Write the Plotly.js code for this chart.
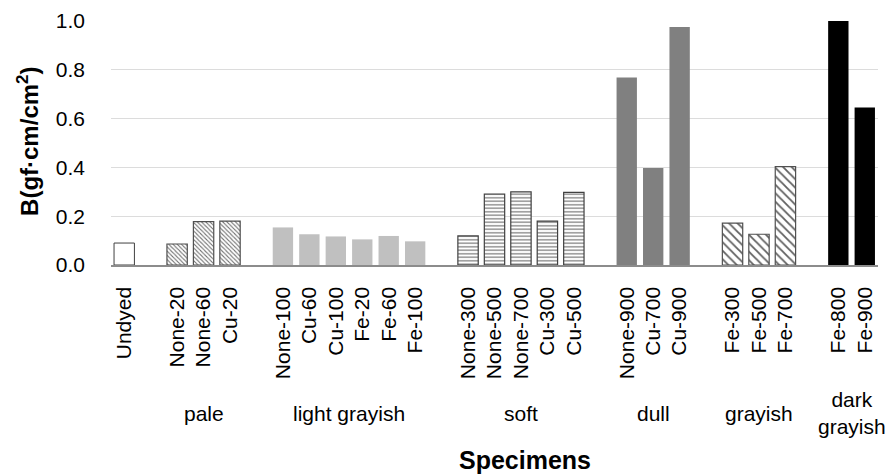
<!DOCTYPE html>
<html>
<head>
<meta charset="utf-8">
<script src="https://cdn.plot.ly/plotly-3.0.1.min.js"></script>
<style>html,body{margin:0;padding:0;background:#fff;}#chart{width:885px;height:475px;}</style>
</head>
<body>
<div id="chart"></div>
<script>
// Data
const groupNames = ["", "pale", "light grayish", "soft", "dull", "grayish", "dark<br>grayish"];
const undyed = ["Undyed"];
const undyedVals = [0.09];
const pale = ["None-20", "None-60", "Cu-20"];
const paleVals = [0.086, 0.178, 0.18];
const lightGrayish = ["None-100", "Cu-60", "Cu-100", "Fe-20", "Fe-60", "Fe-100"];
const lightGrayishVals = [0.154, 0.126, 0.117, 0.105, 0.119, 0.097];
const soft = ["None-300", "None-500", "None-700", "Cu-300", "Cu-500"];
const softVals = [0.119, 0.291, 0.300, 0.180, 0.298];
const dull = ["None-900", "Cu-700", "Cu-900"];
const dullVals = [0.768, 0.398, 0.975];
const grayish = ["Fe-300", "Fe-500", "Fe-700"];
const grayishVals = [0.172, 0.126, 0.403];
const darkGrayish = ["Fe-800", "Fe-900"];
const darkGrayishVals = [1.0, 0.645];

const groupLabels = [undyed, pale, lightGrayish, soft, dull, grayish, darkGrayish];
const groupValues = [undyedVals, paleVals, lightGrayishVals, softVals, dullVals, grayishVals, darkGrayishVals];

const styles = [
  {color: "#ffffff", line: {color: "#404040", width: 1}},
  {color: "#ffffff", line: {color: "#505050", width: 1.2}, pattern: {shape: "\\", size: 3, solidity: 0.35, fgcolor: "#707070", bgcolor: "#ffffff"}},
  {color: "#c0c0c0", line: {color: "#c0c0c0", width: 0}},
  {color: "#ffffff", line: {color: "#404040", width: 1.2}, pattern: {shape: "-", size: 3.5, solidity: 0.4, fgcolor: "#8a8a8a", bgcolor: "#ffffff"}},
  {color: "#808080", line: {color: "#808080", width: 0}},
  {color: "#ffffff", line: {color: "#505050", width: 1.2}, pattern: {shape: "\\", size: 6, solidity: 0.3, fgcolor: "#606060", bgcolor: "#ffffff"}},
  {color: "#000000", line: {color: "#000000", width: 0}}
];

const traces = [];
const tickvals = [], ticktext = [];
const annotations = [];
let slot = 0;
groupLabels.forEach((labels, gi) => {
  const xs = labels.map((_, i) => slot + i);
  xs.forEach((x, i) => { tickvals.push(x); ticktext.push(labels[i]); });
  traces.push({
    type: "bar", x: xs, y: groupValues[gi], hovertext: labels, hoverinfo: "text+y",
    textposition: "none",
    marker: styles[gi], showlegend: false
  });
  if (groupNames[gi]) {
    annotations.push({
      x: (xs[0] + xs[xs.length - 1]) / 2, xref: "x", y: -0.607, yref: "paper",
      text: groupNames[gi], showarrow: false, xanchor: "center", yanchor: "middle",
      font: {family: "Liberation Sans, Arial, sans-serif", size: 21, color: "#000"}
    });
  }
  slot += labels.length + 1;
});

annotations.push({
  x: 0.54, xref: "paper", y: -0.80, yref: "paper", text: "<b>Specimens</b>",
  showarrow: false, xanchor: "center", yanchor: "middle",
  font: {family: "Liberation Sans, Arial, sans-serif", size: 25, color: "#000"}
});
annotations.push({
  x: -0.108, xref: "paper", y: 0.505, yref: "paper", text: "<b>B(gf·cm/cm<sup>2</sup>)</b>",
  showarrow: false, xanchor: "center", yanchor: "middle", textangle: -90,
  font: {family: "Liberation Sans, Arial, sans-serif", size: 24, color: "#000"}
});

const layout = {
  width: 885, height: 475,
  margin: {l: 111, r: 7, t: 21, b: 210},
  paper_bgcolor: "#fff", plot_bgcolor: "#fff",
  bargap: 0.23,
  font: {family: "Liberation Sans, Arial, sans-serif", color: "#000"},
  xaxis: {
    range: [-0.5, slot - 1.5], tickvals: tickvals, ticktext: ticktext,
    tickangle: -90, tickfont: {size: 21, color: "#000"},
    showgrid: false, zeroline: false, showline: true, linecolor: "#8c8c8c", linewidth: 1.5,
    ticks: "", ticklabelstandoff: 12, fixedrange: true
  },
  yaxis: {
    range: [0, 1.0], tickvals: [0, 0.2, 0.4, 0.6, 0.8, 1.0], tickformat: ".1f",
    tickfont: {size: 21, color: "#000"},
    showgrid: true, gridcolor: "#dcdcdc", gridwidth: 1, zeroline: false, showline: false,
    ticks: "", ticklabelstandoff: 25, fixedrange: true
  },
  annotations: annotations
};

Plotly.newPlot("chart", traces, layout, {displayModeBar: false, staticPlot: true});
</script>
</body>
</html>
